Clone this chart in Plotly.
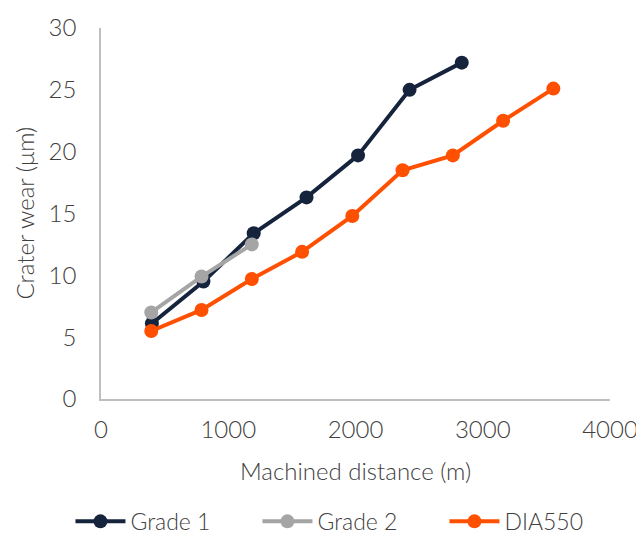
import plotly.graph_objects as go

grade1_x = [400, 805, 1200, 1615, 2020, 2425, 2835]
grade1_y = [6.1, 9.5, 13.4, 16.3, 19.7, 25.0, 27.2]
grade2_x = [395, 790, 1185]
grade2_y = [7.0, 9.9, 12.5]
dia_x = [395, 790, 1185, 1580, 1975, 2370, 2765, 3160, 3555]
dia_y = [5.5, 7.2, 9.7, 11.9, 14.8, 18.5, 19.7, 22.5, 25.1]

FONT = "Lato"
TXT = "#404040"

fig = go.Figure()
for name, xs, ys, col in [
    ("Grade 1", grade1_x, grade1_y, "#15233d"),
    ("Grade 2", grade2_x, grade2_y, "#a5a5a5"),
    ("DIA550", dia_x, dia_y, "#fe5000"),
]:
    fig.add_trace(go.Scatter(
        x=xs, y=ys, name=name, mode="lines+markers",
        line=dict(color=col, width=4),
        marker=dict(color=col, size=14),
    ))

tf = dict(size=24, color=TXT, weight=300)
fig.update_layout(
    width=636, height=533,
    margin=dict(l=92.5, r=33.5, t=20, b=142, autoexpand=False),
    paper_bgcolor="white", plot_bgcolor="white",
    font=dict(family=FONT, color=TXT, size=24, weight=300),
    showlegend=True,
    legend=dict(orientation="h", x=-0.06, xanchor="left", xref="paper",
                y=-0.272, yanchor="top",
                font=dict(size=23, color=TXT, weight=300),
                itemwidth=50, entrywidth=122, entrywidthmode="pixels",
                traceorder="normal"),
    xaxis=dict(range=[0, 4000], dtick=1000, showgrid=False, zeroline=False,
               showline=True, linecolor="#bfbfbf", linewidth=1.5, automargin=False,
               ticks="", tickfont=tf, ticklabelstandoff=8, ticklabeloverflow="allow"),
    yaxis=dict(range=[0, 30], dtick=5, showgrid=False, zeroline=False,
               showline=True, linecolor="#bfbfbf", linewidth=1.5, automargin=False,
               ticks="", tickfont=tf, ticklabelstandoff=18),
    annotations=[
        dict(text="Machined distance (m)", xref="paper", yref="paper", x=0.5, y=0,
             xanchor="center", yanchor="middle", yshift=-71, showarrow=False, font=tf),
        dict(text="Crater wear (μm)", xref="paper", yref="paper", x=0, y=0.5,
             xanchor="center", yanchor="middle", xshift=-77, textangle=-90,
             showarrow=False, font=tf),
    ],
)
fig.write_html("out.html")
